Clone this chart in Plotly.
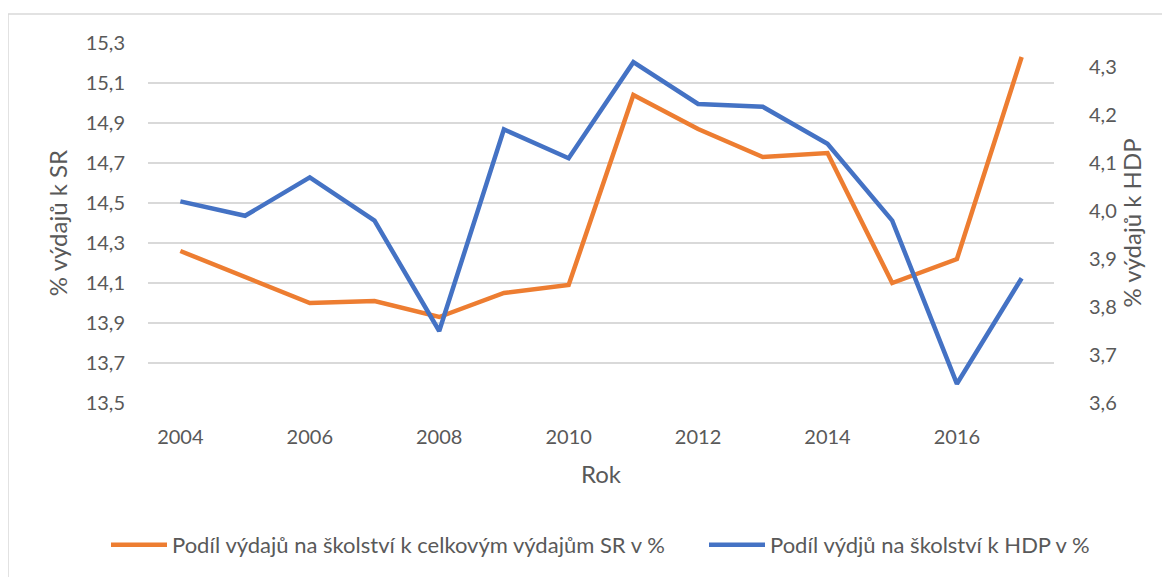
import plotly.graph_objects as go

years = list(range(2004, 2018))
podil_sr = [14.26, 14.13, 14.00, 14.01, 13.93, 14.05, 14.09, 15.04, 14.87, 14.73, 14.75, 14.10, 14.22, 15.23]
podil_hdp = [4.02, 3.99, 4.07, 3.98, 3.75, 4.17, 4.11, 4.31, 4.223, 4.217, 4.14, 3.98, 3.64, 3.86]
x_ticks = [2004, 2006, 2008, 2010, 2012, 2014, 2016]
name_sr = "Podíl výdajů na školství k celkovým výdajům SR v %"
name_hdp = "Podíl výdjů na školství k HDP v %"

ORANGE = "#ED7D31"
BLUE = "#4472C4"
TXT = "#595959"
GRID = "#D9D9D9"
FONT = "Lato, Carlito, Calibri, sans-serif"
TICK_FS = 20
TITLE_FS = 24
LEG_FS = 22

fig = go.Figure()
fig.add_trace(go.Scatter(x=years, y=podil_sr, name=name_sr, mode="lines",
                         line=dict(color=ORANGE, width=4.5), yaxis="y",
                         legend="legend"))
fig.add_trace(go.Scatter(x=years, y=podil_hdp, name=name_hdp, mode="lines",
                         line=dict(color=BLUE, width=4.5), yaxis="y2",
                         legend="legend2"))

# page body has an 8px margin -> figure starts at (8, 8) on screen
OFF = 8
W, H = 1170 - OFF, 577 - OFF
L, R, T, B = 148 - OFF, 116, 43 - OFF, 174
pw, ph = W - L - R, H - T - B

def px_x(p):
    return (p - OFF - L) / pw

def px_y(p):
    return (H - B - (p - OFF)) / ph

leg_common = dict(orientation="h", yanchor="middle", xanchor="left",
                  font=dict(family=FONT, size=LEG_FS, color=TXT),
                  bgcolor="rgba(0,0,0,0)", itemwidth=56)

fig.update_layout(
    width=W, height=H,
    margin=dict(l=L, r=R, t=T, b=B, autoexpand=False),
    paper_bgcolor="white", plot_bgcolor="white",
    separators=", ",
    font=dict(family=FONT, size=TICK_FS, color=TXT),
    showlegend=True,
    legend=dict(x=px_x(106), y=px_y(545), **leg_common),
    legend2=dict(x=px_x(704), y=px_y(545), **leg_common),
    xaxis=dict(range=[2003.5, 2017.5], tickvals=x_ticks, showgrid=False,
               zeroline=False, showline=False, ticks="",
               ticklabelstandoff=20,
               tickfont=dict(family=FONT, size=TICK_FS, color=TXT),
               title=dict(text="Rok", standoff=19,
                          font=dict(family=FONT, size=TITLE_FS, color=TXT))),
    yaxis=dict(range=[13.5, 15.3], tick0=13.5, dtick=0.2, tickformat=".1f",
               showgrid=True, gridcolor=GRID, gridwidth=1.5,
               zeroline=False, showline=False, ticks="",
               ticklabelstandoff=22,
               tickfont=dict(family=FONT, size=TICK_FS, color=TXT),
               title=dict(text="% výdajů k SR", standoff=11,
                          font=dict(family=FONT, size=TITLE_FS, color=TXT))),
    yaxis2=dict(range=[3.6, 4.35], tick0=3.6, dtick=0.1, tickformat=".1f",
                overlaying="y", side="right", showgrid=False,
                zeroline=False, showline=False, ticks="",
                ticklabelstandoff=34,
                tickfont=dict(family=FONT, size=TICK_FS, color=TXT),
                title=dict(text="% výdajů k HDP", standoff=5,
                           font=dict(family=FONT, size=TITLE_FS, color=TXT))),
    shapes=[dict(type="rect", xref="paper", yref="paper",
                 x0=px_x(8), x1=px_x(1190), y0=px_y(600), y1=px_y(14),
                 line=dict(color=GRID, width=1.5), fillcolor="rgba(0,0,0,0)",
                 layer="below")],
)

fig.write_html("out.html")
